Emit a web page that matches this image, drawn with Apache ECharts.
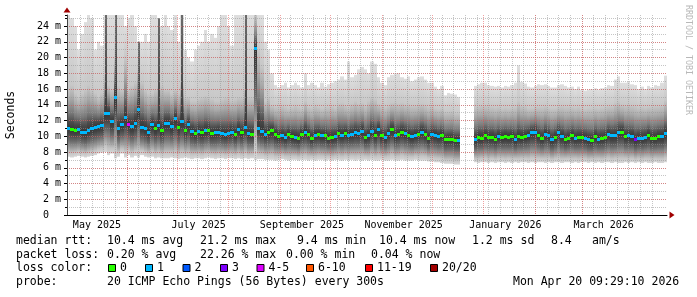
<!DOCTYPE html>
<html><head><meta charset="utf-8">
<script src="https://cdn.jsdelivr.net/npm/echarts@6/dist/echarts.min.js"></script>
<style>html,body{margin:0;padding:0;background:#fff}#c{width:697px;height:297px}</style>
</head><body><div id="c"></div>
<script>
// time range of the graph (local time)
const START = [2025, 3, 26, 0, 50];
const END = [2026, 3, 20, 23, 25];

// one value per ~2-day column, null = no data
const medians = [
11.1,10.9,10.8,10.9,10.6,10.5,10.8,11.0,11.2,11.3,11.4,12.9,13.0,11.9,15.0,11.1,11.5,12.4,11.6,11.3,11.7,13.4,11.2,11.0,10.6,11.5,11.0,11.4,10.8,11.7,
11.7,11.3,12.3,11.2,11.9,10.8,11.5,10.7,10.4,10.7,10.5,10.8,10.8,10.4,10.5,10.6,10.4,10.3,10.4,10.6,10.3,10.9,10.5,11.2,10.4,10.3,21.2,11.1,10.7,10.3,
10.5,10.8,10.3,10.0,10.1,9.9,10.3,10.0,9.9,9.8,10.3,10.6,10.3,9.8,10.2,10.3,10.1,10.1,9.8,9.9,10.0,10.4,10.2,10.4,10.2,10.3,10.5,10.4,10.7,9.9,
10.1,10.7,10.2,10.9,10.1,9.9,10.4,10.9,10.1,10.3,10.6,10.4,10.2,10.0,10.2,10.3,10.6,10.3,9.8,10.3,10.2,10.0,10.2,9.6,9.7,9.7,9.5,9.5,
null,null,null,null,
9.6,9.9,9.8,10.1,9.9,9.9,9.7,10.0,9.9,10.0,9.9,10.0,9.6,10.0,9.9,10.0,10.2,10.5,10.6,10.1,9.8,10.3,10.1,9.6,9.9,10.5,10.0,9.6,
9.8,10.1,9.8,9.9,9.9,9.8,9.6,9.5,10.0,9.7,9.8,9.9,10.3,10.1,10.1,10.5,10.6,10.0,10.1,10.0,9.6,9.8,9.8,9.9,10.2,9.8,9.8,10.0,10.0,10.4
];
const losses = [
1,0,0,1,1,1,1,1,1,1,1,1,1,1,1,1,1,1,4,1,1,1,1,1,1,1,0,1,0,1,
1,1,1,0,1,0,1,1,0,1,0,1,0,0,1,1,1,1,1,1,0,1,0,1,1,0,1,1,1,1,
0,0,0,0,1,1,0,0,1,0,0,1,0,0,1,0,1,0,0,0,1,0,1,0,1,1,1,1,1,0,
1,1,0,1,0,1,1,0,1,0,0,1,0,1,1,0,1,0,0,1,1,1,0,0,0,0,0,1,
null,null,null,null,
1,0,0,0,0,0,0,1,0,0,0,0,1,0,0,0,1,1,1,0,0,1,1,1,0,1,1,0,
0,0,1,0,0,1,1,0,0,1,0,0,1,1,1,1,0,0,1,1,3,1,1,1,0,0,0,0,1,1
];
const smokeHigh = [
25.4,25,24,21,23,24.5,25.4,25,21,22,21.5,25.4,25.4,25.4,25.4,25.4,25.4,24,25,25.4,24,22,22,23,22,25.4,25.4,25,24,25.4,
24,23.5,25.4,22,25.4,21,20,19.5,21,21.5,22,23.5,22,23,22.5,24,25.4,25.4,24,21.5,25.4,25.4,25.4,25.4,25.4,25.4,25.4,25.4,25.4,22,
21,18,16.5,16.2,16.5,16.8,16.2,16.5,16.8,16.5,16.2,18,16.5,16.8,16.5,16.2,16.8,16.3,16.6,16.8,17,17.2,17.6,17.2,19.5,17.5,17.8,18.5,18.8,18.5,
18.0,19.5,19.2,17.5,16.8,16.5,17.5,17.8,18.0,18.0,17.5,17.3,17.6,17.0,17.2,17.5,17.6,17.2,16.8,16.8,16.3,16.0,16.4,15.2,15.5,15.4,15.3,15.0,
null,null,null,null,
16.4,16.6,16.8,16.8,16.5,16.4,16.3,16.4,16.2,16.4,16.3,16.5,16.8,19.0,16.9,16.7,16.3,16.2,16.4,16.6,16.5,16.6,16.4,16.2,16.2,16.5,16.6,16.4,
16.2,16.3,16.0,16.3,15.9,15.8,15.9,16.0,16.1,15.9,16.1,16.2,16.5,16.4,17.2,17.6,16.8,16.8,16.9,16.6,16.5,16.0,16.3,16.0,16.4,16.2,16.5,16.4,16.8,17.7
];
const smokeMid = [
16,16.5,15.5,15,15.5,16,16.5,16,15.5,15,15.5,25.4,16.5,16,25.4,16.5,16,20,16,16.5,17,25.4,17,16,15.5,15.5,16,25.4,16.5,16,
16,15.5,16,15.5,25.4,15,15,14.5,14.5,14.8,15,15.2,15,14.8,14.5,14.5,14.8,15,15,14.6,14.8,15,15,25.4,15,15,25.4,21,19,14.5,
15,14,13.8,13.8,14,13.8,13.6,13.8,14,13.8,13.6,14.5,13.8,13.7,14,13.8,13.6,13.8,13.8,13.9,13.7,14.2,14.3,14,13.8,14.2,14.5,14.2,14.3,14,
14.5,15,14.8,14.2,14,13.8,14,14.3,14.4,14.2,14.3,14.1,14.2,14,14,14.1,14.2,14,13.8,13.9,13.6,13.5,13.6,13.2,13.2,13.3,13.0,13.0,
null,null,null,null,
13.8,13.9,14,14,13.9,13.8,13.7,13.8,13.6,13.7,13.6,13.7,13.8,14.5,14,13.9,13.6,13.6,13.8,13.8,13.8,13.9,13.7,13.6,13.6,13.8,13.9,13.8,
13.8,13.8,13.7,13.8,13.6,13.5,13.6,13.6,13.7,13.6,13.7,13.8,13.9,13.9,14.3,14.5,14.1,14,14.1,14,13.9,13.7,13.8,13.7,13.8,13.8,13.9,13.9,14,14.6
];
const smokeLow = [
7.4,7.3,7.4,7.5,7.4,7.3,7.4,7.5,7.6,7.8,7.9,8.0,7.6,7.8,7.2,7.4,7.8,7.3,7.6,7.3,7.5,7.3,7.6,7.4,7.3,7.4,7.2,7.3,7.2,7.2,
7.2,7.3,7.2,7.1,7.2,7.3,7.2,7.1,7.2,7.2,7.1,7.2,7.3,7.2,7.1,7.2,7.2,7.1,7.2,7.2,7.1,7.2,7.1,7.2,7.1,7.2,7.0,7.1,7.1,7.0,
7.0,7.0,6.9,7.0,7.1,7.0,6.9,7.0,7.0,6.9,7.0,7.0,6.9,7.0,6.9,7.0,7.0,6.9,7.0,6.9,7.0,7.0,6.9,7.0,6.9,7.0,6.9,7.0,6.9,7.0,
6.9,7.0,6.9,6.9,7.0,6.9,6.9,7.0,6.9,6.9,7.0,6.9,6.9,6.9,7.0,6.9,6.9,6.9,6.8,6.8,6.7,6.7,6.6,6.5,6.5,6.5,6.4,6.4,
null,null,null,null,
6.7,6.6,6.7,6.7,6.6,6.7,6.6,6.7,6.7,6.6,6.7,6.6,6.7,6.6,6.7,6.7,6.6,6.7,6.6,6.7,6.7,6.6,6.7,6.6,6.7,6.7,6.6,6.7,
6.7,6.6,6.7,6.6,6.7,6.7,6.6,6.7,6.6,6.7,6.6,6.7,6.7,6.6,6.7,6.6,6.6,6.7,6.6,6.7,6.6,6.7,6.6,6.7,6.6,6.6,6.7,6.6,6.6,6.7
];

const yMax = 25.4;
const monthLabels = [[2025,4,'May 2025'],[2025,6,'July 2025'],[2025,8,'September 2025'],[2025,10,'November 2025'],[2026,0,'January 2026'],[2026,2,'March 2026']];
const legendRtt = [['median rtt:',16],['10.4 ms avg',107],['21.2 ms max',200],['9.4 ms min',297],['10.4 ms now',379],['1.2 ms sd',472],['8.4',551],['am/s',592]];
const legendLoss = [['packet loss:',16],['0.20 % avg',107],['22.26 % max',200],['0.00 % min',286],['0.04 % now',371]];
const lossLegend = [['0','#26ff00',108],['1','#00b8ff',145],['2','#0059ff',182.5],['3','#7e00ff',220],['4-5','#dd00ff',256.5],['6-10','#ff5700',306],['11-19','#ff0000',365],['20/20','#a10000',430]];
const legendProbe = [['probe:',16],['20 ICMP Echo Pings (56 Bytes) every 300s',107],['Mon Apr 20 09:29:10 2026',513]];

function lossColor(n){
  if (n <= 0) return '#26ff00';
  if (n === 1) return '#00b8ff';
  if (n === 2) return '#0059ff';
  if (n === 3) return '#7e00ff';
  if (n <= 5) return '#dd00ff';
  if (n <= 10) return '#ff5700';
  if (n <= 19) return '#ff0000';
  return '#a10000';
}

const t0 = new Date(START[0],START[1],START[2],START[3],START[4]).getTime();
const t1 = new Date(END[0],END[1],END[2],END[3],END[4]).getTime();
const STEP = (t1 - t0) / medians.length;
const smokeData = [], medData = [];
medians.forEach((m, i) => {
  if (m == null) return;
  const t = t0 + (i + 0.5) * STEP;
  smokeData.push([t, smokeLow[i], m, smokeMid[i], smokeHigh[i]]);
  medData.push([t, m, losses[i]]);
});

const monthStarts = [];
for (let d = new Date(2025, 4, 1); d.getTime() <= t1; d.setMonth(d.getMonth() + 1)) monthStarts.push(d.getTime());
const sundays = [];
{ const d = new Date(t0); d.setHours(0,0,0,0); while (d.getDay() !== 0) d.setDate(d.getDate() + 1);
  for (; d.getTime() < t1; d.setDate(d.getDate() + 7)) sundays.push(d.getTime()); }
const labelTimes = monthLabels.map(m => new Date(m[0], m[1], 14, 0, 0).getTime());
function labelFor(v){
  const d = new Date(v);
  const f = monthLabels.find(m => m[0] === d.getFullYear() && m[1] === d.getMonth());
  return f ? f[2] : '';
}

function smokeItem(params, api){
  const t = api.value(0), lo = api.value(1), med = api.value(2), hi = api.value(4);
  let mid = api.value(3);
  const streak = mid >= hi - 1e-6 && hi > med + 6;
  if (streak) mid = Math.min(hi, med + 5);
  const x0 = Math.round(api.coord([t - STEP/2, 0])[0]);
  const x1 = Math.round(api.coord([t + STEP/2, 0])[0]);
  const yOf = v => api.coord([t, v])[1];
  const yHi = yOf(hi), yLo = yOf(lo), yMed = yOf(med);
  const H = yLo - yHi;
  const f = y => Math.min(1, Math.max(0, (y - yHi) / H));
  const up = k => yOf(med + k * (mid - med));
  const dn = k => yOf(med - k * (med - lo));
  const stops = [
    {offset: 0, color: '#dedede'},
    {offset: f(yOf(mid)), color: '#c8c8c8'},
    {offset: f(up(0.7)), color: '#a9a9a9'},
    {offset: f(up(0.375)), color: '#7a7a7a'},
    {offset: f(up(0.15)), color: '#4a4a4a'},
    {offset: f(yMed), color: '#363636'},
    {offset: f(dn(0.17)), color: '#424242'},
    {offset: f(dn(0.41)), color: '#686868'},
    {offset: f(dn(0.66)), color: '#9c9c9c'},
    {offset: f(dn(0.84)), color: '#c4c4c4'},
    {offset: 1, color: '#d8d8d8'}
  ];
  const base = {type: 'rect', shape: {x: x0, y: yHi, width: Math.max(1, x1 - x0), height: H},
    style: {fill: new echarts.graphic.LinearGradient(0, 0, 0, 1, stops)}};
  if (!streak) return base;
  return {type: 'group', children: [base,
    {type: 'rect', shape: {x: x0 + 1, y: yHi, width: 2, height: yMed - yHi},
     style: {fill: new echarts.graphic.LinearGradient(0, 0, 0, 1, [{offset: 0, color: '#6a6a6a'}, {offset: 1, color: '#3a3a3a'}])}}]};
}
function medItem(params, api){
  const t = api.value(0), m = api.value(1), l = api.value(2);
  const x0 = Math.round(api.coord([t - STEP/2, 0])[0]);
  const x1 = Math.round(api.coord([t + STEP/2, 0])[0]);
  const y = Math.round(api.coord([t, m])[1]);
  return {type: 'rect', shape: {x: x0, y: y - 1, width: Math.max(1, x1 - x0), height: 3}, style: {fill: lossColor(l)}};
}

const GRAY = 'rgba(150,150,150,0.55)';
const RED = 'rgba(225,70,70,0.5)';
const MONO = 'DejaVu Sans Mono';
const LF = '11.5px "DejaVu Sans Mono"';

const graphics = [];
function addText(txt, x, y, extra){
  graphics.push(Object.assign({type: 'text', x: x, y: y, silent: true, z: 10,
    style: {text: txt, font: LF, fill: '#000', verticalAlign: 'middle', align: 'left'}}, extra || {}));
}
legendRtt.forEach(p => addText(p[0], p[1], 241));
legendLoss.forEach(p => addText(p[0], p[1], 255));
addText('loss color:', 16, 268.5);
lossLegend.forEach(p => {
  graphics.push({type: 'rect', silent: true, z: 10, shape: {x: p[2] + 0.5, y: 264.5, width: 7, height: 7}, style: {fill: p[1], stroke: '#000', lineWidth: 1}});
  addText(p[0], p[2] + 12, 268.5);
});
legendProbe.forEach(p => addText(p[0], p[1], 282.5));
graphics.push({type: 'text', x: 688, y: 60, rotation: -Math.PI/2, silent: true, z: 10,
  style: {text: 'RRDTOOL / TOBI OETIKER', font: '8.3px "DejaVu Sans Mono"', fill: '#b8b8b8', align: 'center', verticalAlign: 'middle'}});

const chart = echarts.init(document.getElementById('c'), null, {renderer: 'canvas'});
chart.setOption({
  animation: false,
  backgroundColor: '#ffffff',
  grid: {left: 67, right: 30, top: 15, bottom: 82, containLabel: false, outerBoundsMode: 'none'},
  xAxis: [
    {type: 'value', min: t0, max: t1, position: 'bottom', z: 3, scale: true,
     axisLine: {show: true, onZero: false, lineStyle: {color: '#000', width: 1}},
     axisTick: {show: false, customValues: labelTimes},
     axisLabel: {show: true, customValues: labelTimes, formatter: v => labelFor(v), margin: 5, color: '#000', fontFamily: MONO, fontSize: 10, hideOverlap: false, showMinLabel: true, showMaxLabel: true},
     splitLine: {show: false}},
    {type: 'value', min: t0, max: t1, position: 'bottom', z: 3, scale: true,
     axisLine: {show: false}, axisLabel: {show: false},
     axisTick: {show: false, customValues: sundays},
     splitLine: {show: true, showMinLine: false, showMaxLine: false, lineStyle: {color: GRAY, width: 1, type: [1, 1]}}},
    {type: 'value', min: t0, max: t1, position: 'bottom', z: 3, scale: true,
     axisLine: {show: true, onZero: false, symbol: ['none', 'triangle'], symbolSize: [7, 5], symbolOffset: [0, 5], lineStyle: {color: '#a00000', width: 0}},
     axisLabel: {show: false},
     axisTick: {show: false, customValues: monthStarts},
     splitLine: {show: true, showMinLine: false, showMaxLine: false, lineStyle: {color: RED, width: 1, type: [1, 1]}}}
  ],
  yAxis: [
    {type: 'value', min: 0, max: yMax, interval: 1, position: 'left', z: 3,
     axisLine: {show: true, onZero: false, symbol: ['none', 'triangle'], symbolSize: [7, 5], symbolOffset: [0, 5], lineStyle: {color: '#a00000', width: 0}},
     axisTick: {show: true, length: 2, lineStyle: {color: '#000'}},
     axisLabel: {show: false},
     splitLine: {show: true, showMinLine: false, showMaxLine: false, lineStyle: {color: GRAY, width: 1, type: [1, 1]}}},
    {type: 'value', min: 0, max: yMax, interval: 2, position: 'left', z: 3,
     name: 'Seconds', nameLocation: 'middle', nameGap: 50, nameRotate: 90,
     nameTextStyle: {fontFamily: MONO, fontSize: 11.5, color: '#000'},
     axisLine: {show: true, onZero: false, lineStyle: {color: '#444', width: 1}},
     axisTick: {show: true, length: 3, lineStyle: {color: '#000'}},
     axisLabel: {margin: 6, color: '#000', fontFamily: MONO, fontSize: 10, showMaxLabel: false,
       formatter: v => (v === 0 ? '0\u00a0\u00a0' : (Math.abs(v % 2) < 1e-9 ? v + ' m' : ''))},
     splitLine: {show: true, showMinLine: false, showMaxLine: false, lineStyle: {color: RED, width: 1, type: [1, 1]}}}
  ],
  series: [
    {type: 'custom', name: 'smoke', xAxisIndex: 0, yAxisIndex: 1, data: smokeData, renderItem: smokeItem, clip: true, z: 2, silent: true, encode: {x: 0, y: [1, 2, 3, 4]}},
    {type: 'custom', name: 'median', xAxisIndex: 0, yAxisIndex: 1, data: medData, renderItem: medItem, clip: true, z: 5, silent: true, encode: {x: 0, y: 1}}
  ],
  graphic: graphics
});
</script>
</body></html>
